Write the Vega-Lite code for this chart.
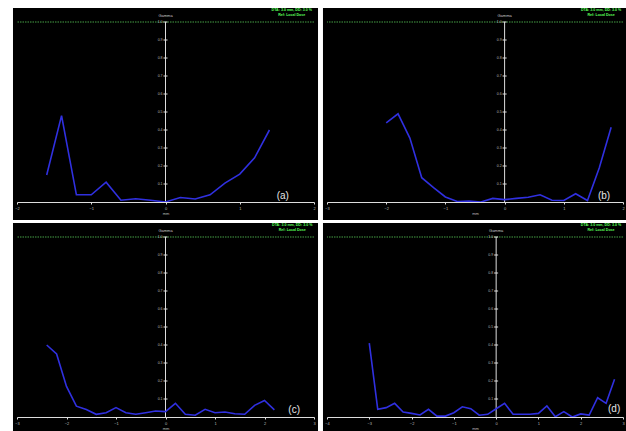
{
  "$schema": "https://vega.github.io/schema/vega-lite/v6.json",
  "background": "white",
  "padding": {"left": 12, "top": 7, "right": 0, "bottom": 0},
  "autosize": {"type": "pad"},
  "bounds": "flush",
  "columns": 2,
  "spacing": {"row": 35, "column": 13},
  "config": {
    "view": {"stroke": null},
    "font": "Liberation Sans",
    "axisX": {"grid": false, "domainColor": "#dddddd", "tickColor": "#dddddd", "labelColor": "#bbbbbb", "titleColor": "#bbbbbb", "labelFontSize": 4, "titleFontSize": 4, "titleFontWeight": "normal", "tickSize": 2, "labelPadding": 2, "titlePadding": 1, "labelFlush": false}
  },
  "datasets": {
    "a": [
      {"x": -1.6, "y": 0.15}, {"x": -1.4, "y": 0.48}, {"x": -1.2, "y": 0.04}, {"x": -1.0, "y": 0.04},
      {"x": -0.8, "y": 0.11}, {"x": -0.6, "y": 0.01}, {"x": -0.4, "y": 0.018}, {"x": -0.2, "y": 0.01},
      {"x": 0.0, "y": 0.0}, {"x": 0.2, "y": 0.025}, {"x": 0.4, "y": 0.017}, {"x": 0.6, "y": 0.04},
      {"x": 0.8, "y": 0.105}, {"x": 1.0, "y": 0.155}, {"x": 1.2, "y": 0.245}, {"x": 1.4, "y": 0.4}
    ],
    "b": [
      {"x": -2.0, "y": 0.44}, {"x": -1.8, "y": 0.49}, {"x": -1.6, "y": 0.355}, {"x": -1.4, "y": 0.135},
      {"x": -1.2, "y": 0.08}, {"x": -1.0, "y": 0.028}, {"x": -0.8, "y": 0.003}, {"x": -0.6, "y": 0.005},
      {"x": -0.4, "y": 0.0}, {"x": -0.2, "y": 0.02}, {"x": 0.0, "y": 0.013}, {"x": 0.2, "y": 0.02},
      {"x": 0.4, "y": 0.026}, {"x": 0.6, "y": 0.04}, {"x": 0.8, "y": 0.01}, {"x": 1.0, "y": 0.008},
      {"x": 1.2, "y": 0.046}, {"x": 1.4, "y": 0.008}, {"x": 1.6, "y": 0.19}, {"x": 1.8, "y": 0.415}
    ],
    "c": [
      {"x": -2.4, "y": 0.4}, {"x": -2.2, "y": 0.35}, {"x": -2.0, "y": 0.17}, {"x": -1.8, "y": 0.06},
      {"x": -1.6, "y": 0.042}, {"x": -1.4, "y": 0.015}, {"x": -1.2, "y": 0.024}, {"x": -1.0, "y": 0.052},
      {"x": -0.8, "y": 0.024}, {"x": -0.6, "y": 0.015}, {"x": -0.4, "y": 0.024}, {"x": -0.2, "y": 0.033},
      {"x": 0.0, "y": 0.03}, {"x": 0.2, "y": 0.076}, {"x": 0.4, "y": 0.015}, {"x": 0.6, "y": 0.01},
      {"x": 0.8, "y": 0.043}, {"x": 1.0, "y": 0.024}, {"x": 1.2, "y": 0.028}, {"x": 1.4, "y": 0.018},
      {"x": 1.6, "y": 0.015}, {"x": 1.8, "y": 0.065}, {"x": 2.0, "y": 0.092}, {"x": 2.2, "y": 0.04}
    ],
    "d": [
      {"x": -3.0, "y": 0.41}, {"x": -2.8, "y": 0.043}, {"x": -2.6, "y": 0.052}, {"x": -2.4, "y": 0.076},
      {"x": -2.2, "y": 0.028}, {"x": -2.0, "y": 0.02}, {"x": -1.8, "y": 0.011}, {"x": -1.6, "y": 0.043},
      {"x": -1.4, "y": 0.005}, {"x": -1.2, "y": 0.005}, {"x": -1.0, "y": 0.024}, {"x": -0.8, "y": 0.057},
      {"x": -0.6, "y": 0.046}, {"x": -0.4, "y": 0.01}, {"x": -0.2, "y": 0.015}, {"x": 0.0, "y": 0.046},
      {"x": 0.2, "y": 0.076}, {"x": 0.4, "y": 0.015}, {"x": 0.6, "y": 0.015}, {"x": 0.8, "y": 0.015},
      {"x": 1.0, "y": 0.02}, {"x": 1.2, "y": 0.061}, {"x": 1.4, "y": 0.002}, {"x": 1.6, "y": 0.03},
      {"x": 1.8, "y": 0.0}, {"x": 2.0, "y": 0.017}, {"x": 2.2, "y": 0.011}, {"x": 2.4, "y": 0.107},
      {"x": 2.6, "y": 0.076}, {"x": 2.8, "y": 0.21}
    ],
    "yt": [{"v": 0.1}, {"v": 0.2}, {"v": 0.3}, {"v": 0.4}, {"v": 0.5}, {"v": 0.6}, {"v": 0.7}, {"v": 0.8}, {"v": 0.9}, {"v": 1.0}],
    "one": [{}]
  },
  "concat": [
    {
      "width": 297, "height": 180,
      "layer": [
        {"data": {"name": "one"}, "mark": {"type": "rect", "color": "black"},
         "encoding": {"x": {"datum": -2.054, "type": "quantitative", "scale": {"domain": [-2, 2], "nice": false, "zero": false}}, "x2": {"datum": 2.054},
                      "y": {"datum": -0.1, "type": "quantitative", "scale": {"domain": [0, 1], "nice": false}, "axis": null}, "y2": {"datum": 1.078}}},
        {"data": {"name": "one"}, "mark": {"type": "rule", "color": "#46a046", "strokeDash": [1.5, 1], "strokeWidth": 1},
         "encoding": {"y": {"datum": 1, "type": "quantitative", "scale": {"domain": [0, 1], "nice": false}, "axis": null}}},
        {"data": {"name": "one"}, "mark": {"type": "rule", "color": "#dddddd", "strokeWidth": 1},
         "encoding": {"x": {"datum": 0, "type": "quantitative", "scale": {"domain": [-2, 2], "nice": false, "zero": false}},
                      "y": {"datum": 0, "type": "quantitative", "scale": {"domain": [0, 1], "nice": false}, "axis": null}, "y2": {"datum": 1}}},
        {"data": {"name": "yt"}, "mark": {"type": "rule", "color": "#dddddd", "strokeWidth": 1},
         "encoding": {"x": {"datum": -0.027, "type": "quantitative", "scale": {"domain": [-2, 2], "nice": false, "zero": false}}, "x2": {"datum": 0.027},
                      "y": {"field": "v", "type": "quantitative", "scale": {"domain": [0, 1], "nice": false}, "axis": null}}},
        {"data": {"name": "yt"}, "mark": {"type": "text", "color": "#bbbbbb", "fontSize": 3.5, "align": "right", "baseline": "middle", "dx": -3},
         "encoding": {"x": {"datum": 0, "type": "quantitative", "scale": {"domain": [-2, 2], "nice": false, "zero": false}},
                      "y": {"field": "v", "type": "quantitative", "scale": {"domain": [0, 1], "nice": false}, "axis": null},
                      "text": {"field": "v", "type": "quantitative", "format": ".1f"}}},
        {"data": {"name": "a"}, "mark": {"type": "line", "color": "#3030e0", "strokeWidth": 1.6},
         "encoding": {
           "x": {"field": "x", "type": "quantitative", "scale": {"domain": [-2, 2], "nice": false, "zero": false},
                 "axis": {"values": [-2, -1.5, -1, -0.5, 0, 0.5, 1, 1.5, 2], "labelExpr": "datum.value % 1 == 0 ? format(datum.value, 'd') : ''", "title": "mm", "zindex": 1}},
           "y": {"field": "y", "type": "quantitative", "scale": {"domain": [0, 1], "nice": false}, "axis": null}}},
        {"data": {"name": "one"}, "mark": {"type": "text", "text": "Gamma", "color": "#cccccc", "fontSize": 4, "baseline": "middle", "align": "center"},
         "encoding": {"x": {"datum": 0, "type": "quantitative", "scale": {"domain": [-2, 2], "nice": false, "zero": false}},
                      "y": {"datum": 1.033, "type": "quantitative", "scale": {"domain": [0, 1], "nice": false}, "axis": null}}},
        {"data": {"name": "one"}, "mark": {"type": "text", "text": ["DTA: 3.0 mm, DD: 3.0 %", "Ref: Local Dose"], "color": "#5cff5c", "fontSize": 3.6, "fontWeight": "bold", "lineHeight": 5, "baseline": "top", "align": "center"},
         "encoding": {"x": {"datum": 1.7, "type": "quantitative", "scale": {"domain": [-2, 2], "nice": false, "zero": false}},
                      "y": {"datum": 1.078, "type": "quantitative", "scale": {"domain": [0, 1], "nice": false}, "axis": null}}},
        {"data": {"name": "one"}, "mark": {"type": "text", "text": "(a)", "color": "#e6e6e6", "fontSize": 10, "baseline": "middle", "align": "center"},
         "encoding": {"x": {"datum": 1.58, "type": "quantitative", "scale": {"domain": [-2, 2], "nice": false, "zero": false}},
                      "y": {"datum": 0.035, "type": "quantitative", "scale": {"domain": [0, 1], "nice": false}, "axis": null}}}
      ]
    },
    {
      "width": 296, "height": 180,
      "layer": [
        {"data": {"name": "one"}, "mark": {"type": "rect", "color": "black"},
         "encoding": {"x": {"datum": -3.068, "type": "quantitative", "scale": {"domain": [-3, 2], "nice": false, "zero": false}}, "x2": {"datum": 2.068},
                      "y": {"datum": -0.1, "type": "quantitative", "scale": {"domain": [0, 1], "nice": false}, "axis": null}, "y2": {"datum": 1.078}}},
        {"data": {"name": "one"}, "mark": {"type": "rule", "color": "#46a046", "strokeDash": [1.5, 1], "strokeWidth": 1},
         "encoding": {"y": {"datum": 1, "type": "quantitative", "scale": {"domain": [0, 1], "nice": false}, "axis": null}}},
        {"data": {"name": "one"}, "mark": {"type": "rule", "color": "#dddddd", "strokeWidth": 1},
         "encoding": {"x": {"datum": 0, "type": "quantitative", "scale": {"domain": [-3, 2], "nice": false, "zero": false}},
                      "y": {"datum": 0, "type": "quantitative", "scale": {"domain": [0, 1], "nice": false}, "axis": null}, "y2": {"datum": 1}}},
        {"data": {"name": "yt"}, "mark": {"type": "rule", "color": "#dddddd", "strokeWidth": 1},
         "encoding": {"x": {"datum": -0.034, "type": "quantitative", "scale": {"domain": [-3, 2], "nice": false, "zero": false}}, "x2": {"datum": 0.034},
                      "y": {"field": "v", "type": "quantitative", "scale": {"domain": [0, 1], "nice": false}, "axis": null}}},
        {"data": {"name": "yt"}, "mark": {"type": "text", "color": "#bbbbbb", "fontSize": 3.5, "align": "right", "baseline": "middle", "dx": -3},
         "encoding": {"x": {"datum": 0, "type": "quantitative", "scale": {"domain": [-3, 2], "nice": false, "zero": false}},
                      "y": {"field": "v", "type": "quantitative", "scale": {"domain": [0, 1], "nice": false}, "axis": null},
                      "text": {"field": "v", "type": "quantitative", "format": ".1f"}}},
        {"data": {"name": "b"}, "mark": {"type": "line", "color": "#3030e0", "strokeWidth": 1.6},
         "encoding": {
           "x": {"field": "x", "type": "quantitative", "scale": {"domain": [-3, 2], "nice": false, "zero": false},
                 "axis": {"values": [-3, -2.5, -2, -1.5, -1, -0.5, 0, 0.5, 1, 1.5, 2], "labelExpr": "datum.value % 1 == 0 ? format(datum.value, 'd') : ''", "title": "mm", "zindex": 1}},
           "y": {"field": "y", "type": "quantitative", "scale": {"domain": [0, 1], "nice": false}, "axis": null}}},
        {"data": {"name": "one"}, "mark": {"type": "text", "text": "Gamma", "color": "#cccccc", "fontSize": 4, "baseline": "middle", "align": "center"},
         "encoding": {"x": {"datum": 0, "type": "quantitative", "scale": {"domain": [-3, 2], "nice": false, "zero": false}},
                      "y": {"datum": 1.033, "type": "quantitative", "scale": {"domain": [0, 1], "nice": false}, "axis": null}}},
        {"data": {"name": "one"}, "mark": {"type": "text", "text": ["DTA: 3.0 mm, DD: 3.0 %", "Ref: Local Dose"], "color": "#5cff5c", "fontSize": 3.6, "fontWeight": "bold", "lineHeight": 5, "baseline": "top", "align": "center"},
         "encoding": {"x": {"datum": 1.63, "type": "quantitative", "scale": {"domain": [-3, 2], "nice": false, "zero": false}},
                      "y": {"datum": 1.078, "type": "quantitative", "scale": {"domain": [0, 1], "nice": false}, "axis": null}}},
        {"data": {"name": "one"}, "mark": {"type": "text", "text": "(b)", "color": "#e6e6e6", "fontSize": 10, "baseline": "middle", "align": "center"},
         "encoding": {"x": {"datum": 1.68, "type": "quantitative", "scale": {"domain": [-3, 2], "nice": false, "zero": false}},
                      "y": {"datum": 0.035, "type": "quantitative", "scale": {"domain": [0, 1], "nice": false}, "axis": null}}}
      ]
    },
    {
      "width": 297, "height": 180,
      "layer": [
        {"data": {"name": "one"}, "mark": {"type": "rect", "color": "black"},
         "encoding": {"x": {"datum": -3.081, "type": "quantitative", "scale": {"domain": [-3, 3], "nice": false, "zero": false}}, "x2": {"datum": 3.081},
                      "y": {"datum": -0.1, "type": "quantitative", "scale": {"domain": [0, 1], "nice": false}, "axis": null}, "y2": {"datum": 1.078}}},
        {"data": {"name": "one"}, "mark": {"type": "rule", "color": "#46a046", "strokeDash": [1.5, 1], "strokeWidth": 1},
         "encoding": {"y": {"datum": 1, "type": "quantitative", "scale": {"domain": [0, 1], "nice": false}, "axis": null}}},
        {"data": {"name": "one"}, "mark": {"type": "rule", "color": "#dddddd", "strokeWidth": 1},
         "encoding": {"x": {"datum": 0, "type": "quantitative", "scale": {"domain": [-3, 3], "nice": false, "zero": false}},
                      "y": {"datum": 0, "type": "quantitative", "scale": {"domain": [0, 1], "nice": false}, "axis": null}, "y2": {"datum": 1}}},
        {"data": {"name": "yt"}, "mark": {"type": "rule", "color": "#dddddd", "strokeWidth": 1},
         "encoding": {"x": {"datum": -0.04, "type": "quantitative", "scale": {"domain": [-3, 3], "nice": false, "zero": false}}, "x2": {"datum": 0.04},
                      "y": {"field": "v", "type": "quantitative", "scale": {"domain": [0, 1], "nice": false}, "axis": null}}},
        {"data": {"name": "yt"}, "mark": {"type": "text", "color": "#bbbbbb", "fontSize": 3.5, "align": "right", "baseline": "middle", "dx": -3},
         "encoding": {"x": {"datum": 0, "type": "quantitative", "scale": {"domain": [-3, 3], "nice": false, "zero": false}},
                      "y": {"field": "v", "type": "quantitative", "scale": {"domain": [0, 1], "nice": false}, "axis": null},
                      "text": {"field": "v", "type": "quantitative", "format": ".1f"}}},
        {"data": {"name": "c"}, "mark": {"type": "line", "color": "#3030e0", "strokeWidth": 1.6},
         "encoding": {
           "x": {"field": "x", "type": "quantitative", "scale": {"domain": [-3, 3], "nice": false, "zero": false},
                 "axis": {"values": [-3, -2.5, -2, -1.5, -1, -0.5, 0, 0.5, 1, 1.5, 2, 2.5, 3], "labelExpr": "datum.value % 1 == 0 ? format(datum.value, 'd') : ''", "title": "mm", "zindex": 1}},
           "y": {"field": "y", "type": "quantitative", "scale": {"domain": [0, 1], "nice": false}, "axis": null}}},
        {"data": {"name": "one"}, "mark": {"type": "text", "text": "Gamma", "color": "#cccccc", "fontSize": 4, "baseline": "middle", "align": "center"},
         "encoding": {"x": {"datum": 0, "type": "quantitative", "scale": {"domain": [-3, 3], "nice": false, "zero": false}},
                      "y": {"datum": 1.033, "type": "quantitative", "scale": {"domain": [0, 1], "nice": false}, "axis": null}}},
        {"data": {"name": "one"}, "mark": {"type": "text", "text": ["DTA: 3.0 mm, DD: 3.0 %", "Ref: Local Dose"], "color": "#5cff5c", "fontSize": 3.6, "fontWeight": "bold", "lineHeight": 5, "baseline": "top", "align": "center"},
         "encoding": {"x": {"datum": 2.56, "type": "quantitative", "scale": {"domain": [-3, 3], "nice": false, "zero": false}},
                      "y": {"datum": 1.078, "type": "quantitative", "scale": {"domain": [0, 1], "nice": false}, "axis": null}}},
        {"data": {"name": "one"}, "mark": {"type": "text", "text": "(c)", "color": "#e6e6e6", "fontSize": 10, "baseline": "middle", "align": "center"},
         "encoding": {"x": {"datum": 2.6, "type": "quantitative", "scale": {"domain": [-3, 3], "nice": false, "zero": false}},
                      "y": {"datum": 0.04, "type": "quantitative", "scale": {"domain": [0, 1], "nice": false}, "axis": null}}}
      ]
    },
    {
      "width": 296, "height": 180,
      "layer": [
        {"data": {"name": "one"}, "mark": {"type": "rect", "color": "black"},
         "encoding": {"x": {"datum": -4.095, "type": "quantitative", "scale": {"domain": [-4, 3], "nice": false, "zero": false}}, "x2": {"datum": 3.095},
                      "y": {"datum": -0.1, "type": "quantitative", "scale": {"domain": [0, 1], "nice": false}, "axis": null}, "y2": {"datum": 1.078}}},
        {"data": {"name": "one"}, "mark": {"type": "rule", "color": "#46a046", "strokeDash": [1.5, 1], "strokeWidth": 1},
         "encoding": {"y": {"datum": 1, "type": "quantitative", "scale": {"domain": [0, 1], "nice": false}, "axis": null}}},
        {"data": {"name": "one"}, "mark": {"type": "rule", "color": "#dddddd", "strokeWidth": 1},
         "encoding": {"x": {"datum": 0, "type": "quantitative", "scale": {"domain": [-4, 3], "nice": false, "zero": false}},
                      "y": {"datum": 0, "type": "quantitative", "scale": {"domain": [0, 1], "nice": false}, "axis": null}, "y2": {"datum": 1}}},
        {"data": {"name": "yt"}, "mark": {"type": "rule", "color": "#dddddd", "strokeWidth": 1},
         "encoding": {"x": {"datum": -0.047, "type": "quantitative", "scale": {"domain": [-4, 3], "nice": false, "zero": false}}, "x2": {"datum": 0.047},
                      "y": {"field": "v", "type": "quantitative", "scale": {"domain": [0, 1], "nice": false}, "axis": null}}},
        {"data": {"name": "yt"}, "mark": {"type": "text", "color": "#bbbbbb", "fontSize": 3.5, "align": "right", "baseline": "middle", "dx": -3},
         "encoding": {"x": {"datum": 0, "type": "quantitative", "scale": {"domain": [-4, 3], "nice": false, "zero": false}},
                      "y": {"field": "v", "type": "quantitative", "scale": {"domain": [0, 1], "nice": false}, "axis": null},
                      "text": {"field": "v", "type": "quantitative", "format": ".1f"}}},
        {"data": {"name": "d"}, "mark": {"type": "line", "color": "#3030e0", "strokeWidth": 1.6},
         "encoding": {
           "x": {"field": "x", "type": "quantitative", "scale": {"domain": [-4, 3], "nice": false, "zero": false},
                 "axis": {"values": [-4, -3.5, -3, -2.5, -2, -1.5, -1, -0.5, 0, 0.5, 1, 1.5, 2, 2.5, 3], "labelExpr": "datum.value % 1 == 0 ? format(datum.value, 'd') : ''", "title": "mm", "zindex": 1}},
           "y": {"field": "y", "type": "quantitative", "scale": {"domain": [0, 1], "nice": false}, "axis": null}}},
        {"data": {"name": "one"}, "mark": {"type": "text", "text": "Gamma", "color": "#cccccc", "fontSize": 4, "baseline": "middle", "align": "center"},
         "encoding": {"x": {"datum": 0, "type": "quantitative", "scale": {"domain": [-4, 3], "nice": false, "zero": false}},
                      "y": {"datum": 1.033, "type": "quantitative", "scale": {"domain": [0, 1], "nice": false}, "axis": null}}},
        {"data": {"name": "one"}, "mark": {"type": "text", "text": ["DTA: 3.0 mm, DD: 3.0 %", "Ref: Local Dose"], "color": "#5cff5c", "fontSize": 3.6, "fontWeight": "bold", "lineHeight": 5, "baseline": "top", "align": "center"},
         "encoding": {"x": {"datum": 2.48, "type": "quantitative", "scale": {"domain": [-4, 3], "nice": false, "zero": false}},
                      "y": {"datum": 1.078, "type": "quantitative", "scale": {"domain": [0, 1], "nice": false}, "axis": null}}},
        {"data": {"name": "one"}, "mark": {"type": "text", "text": "(d)", "color": "#e6e6e6", "fontSize": 10, "baseline": "middle", "align": "center"},
         "encoding": {"x": {"datum": 2.79, "type": "quantitative", "scale": {"domain": [-4, 3], "nice": false, "zero": false}},
                      "y": {"datum": 0.045, "type": "quantitative", "scale": {"domain": [0, 1], "nice": false}, "axis": null}}}
      ]
    }
  ]
}
